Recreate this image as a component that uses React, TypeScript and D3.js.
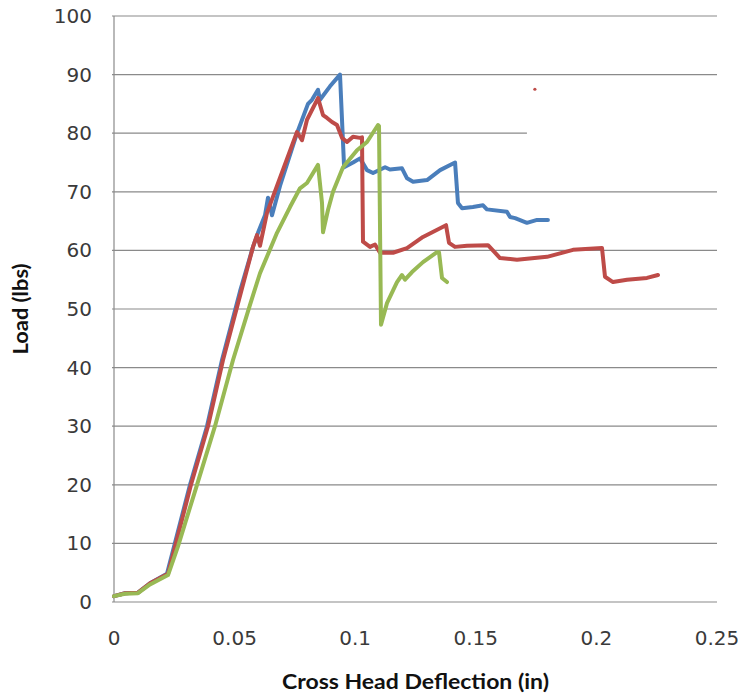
import React from "react";
import * as d3 from "d3";

const xTicks = [0, 0.05, 0.1, 0.15, 0.2, 0.25];
const yTicks = [0, 10, 20, 30, 40, 50, 60, 70, 80, 90, 100];
const xTickLabels = ["0", "0.05", "0.1", "0.15", "0.2", "0.25"];

// Specimen 1 (blue)
const blueX = [0, 0.00456, 0.00995, 0.01493, 0.02197, 0.03151, 0.03856, 0.04478, 0.05224, 0.05763, 0.0597, 0.0626, 0.06385, 0.06551, 0.06882, 0.07587, 0.08043, 0.08209, 0.08458, 0.08541, 0.08955, 0.0937, 0.0954, 0.0991, 0.102, 0.1049, 0.1074, 0.1124, 0.1144, 0.1194, 0.1215, 0.124, 0.1298, 0.1352, 0.1414, 0.1426, 0.1443, 0.1488, 0.153, 0.1546, 0.1629, 0.1642, 0.1663, 0.1712, 0.1754, 0.1799];
const blueY = [1.0, 1.5, 1.6, 3.2, 4.8, 20, 30, 41.3, 53, 60.6, 63, 66, 69, 66, 71, 80, 85, 85.7, 87.4, 85.7, 88, 90, 74.2, 75, 75.7, 73.7, 73.2, 74.2, 73.8, 74, 72.3, 71.7, 72, 73.7, 75, 68.1, 67.2, 67.4, 67.7, 67, 66.6, 65.7, 65.5, 64.7, 65.2, 65.2];

// Specimen 2 (red)
const redX = [0, 0.00456, 0.00995, 0.01493, 0.02239, 0.03192, 0.03897, 0.04519, 0.05763, 0.05929, 0.06053, 0.06343, 0.07587, 0.07794, 0.08002, 0.08458, 0.08665, 0.08831, 0.09038, 0.09245, 0.09453, 0.0966, 0.09909, 0.10199, 0.10282, 0.10323, 0.10614, 0.10821, 0.11028, 0.11567, 0.12148, 0.12811, 0.13765, 0.13889, 0.14138, 0.14635, 0.15506, 0.16003, 0.16708, 0.17952, 0.1903, 0.20232, 0.20357, 0.20688, 0.21269, 0.22098, 0.22554];
const redY = [1.0, 1.5, 1.6, 3.2, 4.8, 20, 30, 41.3, 60.6, 62.6, 60.8, 66.4, 80.2, 78.8, 82.3, 86, 83.1, 82.6, 81.9, 81.4, 79.2, 78.5, 79.4, 79.2, 79.3, 61.5, 60.6, 61, 59.6, 59.6, 60.4, 62.3, 64.3, 61.3, 60.6, 60.8, 60.9, 58.7, 58.4, 58.9, 60.1, 60.4, 55.5, 54.6, 55, 55.3, 55.8];

// Specimen 3 (green)
const greenX = [0, 0.00456, 0.00995, 0.01493, 0.0224, 0.02653, 0.03441, 0.04187, 0.04934, 0.05638, 0.06053, 0.06758, 0.07297, 0.07711, 0.08002, 0.08458, 0.08624, 0.08665, 0.08872, 0.0908, 0.09494, 0.10075, 0.10489, 0.10945, 0.10987, 0.1107, 0.11318, 0.11733, 0.1194, 0.12065, 0.12355, 0.12811, 0.13391, 0.13474, 0.13599, 0.13806];
const greenY = [1.0, 1.4, 1.5, 3.0, 4.6, 9.5, 20, 30, 41.3, 50.7, 56.1, 63, 67.4, 70.6, 71.5, 74.6, 68.1, 63.1, 66.9, 70, 74.2, 77.1, 78.5, 81.4, 81.2, 47.3, 51, 54.6, 55.8, 55, 56.3, 58, 59.7, 59.7, 55.3, 54.6];

// leftover legend remnants in the source image
const strayPointX = [0.1745];
const strayPointY = [87.5];
const gridEndX = [0.25, 0.25, 0.25, 0.25, 0.25, 0.25, 0.25, 0.25, 0.1712, 0.25, 0.25];

const seriesColors = ["#4A7EBB", "#BE4B48", "#98B954"];

const W = 738;
const H = 694;
const left = 114;
const right = 717;
const top = 16;
const bottom = 602;

export default function App() {
  const x = d3.scaleLinear().domain([0, 0.25]).range([left, right]);
  const y = d3.scaleLinear().domain([0, 100]).range([bottom, top]);
  const line = d3
    .line<[number, number]>()
    .x((d) => x(d[0]))
    .y((d) => y(d[1]));

  const series = [
    { xs: blueX, ys: blueY, color: seriesColors[0] },
    { xs: redX, ys: redY, color: seriesColors[1] },
    { xs: greenX, ys: greenY, color: seriesColors[2] },
  ];

  return (
    <svg
      width={W}
      height={H}
      style={{ position: "absolute", left: 0, top: 0, background: "#fff" }}
    >
      {yTicks.map((t, i) =>
        t === 0 ? null : (
          <line
            key={"g" + t}
            x1={left - 2}
            x2={x(gridEndX[i])}
            y1={y(t)}
            y2={y(t)}
            stroke="#8a8a8a"
            strokeWidth={1.2}
          />
        )
      )}
      <line x1={left} x2={left} y1={top} y2={bottom} stroke="#8a8a8a" strokeWidth={1.2} />
      <line x1={left - 2} x2={right} y1={bottom} y2={bottom} stroke="#8a8a8a" strokeWidth={1.2} />

      {yTicks.map((t) => (
        <text
          key={"yl" + t}
          x={92}
          y={y(t) + 7}
          textAnchor="end"
          fontFamily="DejaVu Sans, Verdana, sans-serif"
          fontSize={20}
          fill="#3a3a3a"
        >
          {t}
        </text>
      ))}
      {xTicks.map((t, i) => (
        <text
          key={"xl" + t}
          x={x(t)}
          y={645}
          textAnchor="middle"
          fontFamily="DejaVu Sans, Verdana, sans-serif"
          fontSize={20}
          fill="#3a3a3a"
        >
          {xTickLabels[i]}
        </text>
      ))}

      {series.map((s, i) => (
        <path
          key={"s" + i}
          d={line(s.xs.map((v, j) => [v, s.ys[j]] as [number, number])) || ""}
          fill="none"
          stroke={s.color}
          strokeWidth={4}
          strokeLinejoin="round"
          strokeLinecap="round"
        />
      ))}

      {strayPointX.map((v, i) => (
        <circle key={"sp" + i} cx={x(v)} cy={y(strayPointY[i])} r={1.6} fill={seriesColors[1]} />
      ))}

      <text
        x={(left + right) / 2}
        y={689}
        textAnchor="middle"
        fontFamily="Lato, 'Open Sans', sans-serif"
        fontWeight="bold"
        fontSize={20}
        textLength={267}
        lengthAdjust="spacingAndGlyphs"
        fill="#111"
      >
        Cross Head Deflection (in)
      </text>
      <text
        transform={`translate(28, ${(top + bottom) / 2}) rotate(-90)`}
        textAnchor="middle"
        fontFamily="Lato, 'Open Sans', sans-serif"
        fontWeight="bold"
        fontSize={20}
        textLength={91}
        lengthAdjust="spacingAndGlyphs"
        fill="#111"
      >
        Load (lbs)
      </text>
    </svg>
  );
}
